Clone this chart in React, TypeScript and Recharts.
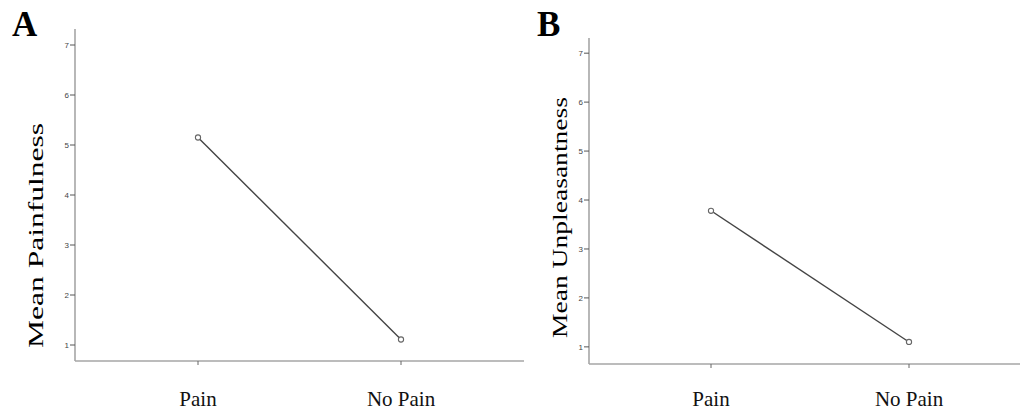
import React from 'react';
import { LineChart, Line, XAxis, YAxis, Label } from 'recharts';

const categories = ['Pain', 'No Pain'];
const painfulness = [5.15, 1.11];
const unpleasantness = [3.78, 1.1];
const yTicks = [1, 2, 3, 4, 5, 6, 7];

const dataA = categories.map((c, i) => ({ cat: c, v: painfulness[i] }));
const dataB = categories.map((c, i) => ({ cat: c, v: unpleasantness[i] }));

const SERIF = '"Liberation Serif", "DejaVu Serif", serif';

const yLabel = (text: string, x: number, y: number, len: number) => () => (
  <text
    x={x}
    y={y}
    transform={`rotate(-90 ${x} ${y})`}
    textAnchor="middle"
    fontFamily={SERIF}
    fontSize={22}
    fill="#000"
    textLength={len}
    lengthAdjust="spacingAndGlyphs"
  >
    {text}
  </text>
);

const letterStyle: React.CSSProperties = {
  position: 'absolute',
  fontFamily: SERIF,
  fontWeight: 'bold',
  fontSize: 35,
  lineHeight: '35px',
  color: '#000',
};

const AXW = 20;

function Panel(props: {
  data: { cat: string; v: number }[];
  width: number;
  margin: { top: number; right: number; bottom: number; left: number };
  padding: { left: number; right: number };
  domain: [number, number];
  xTickMargin: number;
  label: string;
  labelX: number;
  labelY: number;
  labelLen: number;
}) {
  const m = {
    top: props.margin.top,
    right: props.margin.right,
    bottom: props.margin.bottom - AXW,
    left: props.margin.left - AXW,
  };
  return (
    <LineChart width={props.width} height={412} data={props.data} margin={m}>
      <XAxis
        dataKey="cat"
        height={AXW}
        padding={props.padding}
        axisLine={{ stroke: '#a6a6a6', strokeWidth: 1.6 }}
        tickLine={{ stroke: '#666', strokeWidth: 1 }}
        tickSize={4}
        tickMargin={props.xTickMargin}
        tick={{ fontFamily: SERIF, fontSize: 21, fill: '#111' }}
        interval={0}
      />
      <YAxis
        type="number"
        width={AXW}
        domain={props.domain}
        ticks={yTicks}
        interval={0}
        allowDataOverflow
        axisLine={{ stroke: '#a6a6a6', strokeWidth: 1.6 }}
        tickLine={{ stroke: '#555', strokeWidth: 1 }}
        tickSize={5}
        tickMargin={1}
        tick={{ fontFamily: '"Liberation Sans", Arial, sans-serif', fontSize: 8, fill: '#444' }}
      >
        <Label content={yLabel(props.label, props.labelX, props.labelY, props.labelLen)} />
      </YAxis>
      <Line
        type="linear"
        dataKey="v"
        stroke="#444"
        strokeWidth={1.4}
        dot={{ r: 2.6, stroke: '#666', strokeWidth: 1.1, fill: '#fff' }}
        isAnimationActive={false}
      />
    </LineChart>
  );
}

export default function App() {
  return (
    <div
      style={{
        position: 'fixed',
        left: 0,
        top: 0,
        width: 1020,
        height: 412,
        overflow: 'hidden',
        background: '#fff',
      }}
    >
      <div style={{ position: 'absolute', left: 0, top: 0 }}>
        <Panel
          data={dataA}
          width={530}
          margin={{ top: 29, right: 6, bottom: 51, left: 75 }}
          padding={{ left: 123, right: 123 }}
          domain={[0.68, 7.32]}
          xTickMargin={26}
          label="Mean Painfulness"
          labelX={43}
          labelY={235.5}
          labelLen={225}
        />
      </div>
      <div style={{ position: 'absolute', left: 530, top: 0 }}>
        <Panel
          data={dataB}
          width={490}
          margin={{ top: 38, right: 0, bottom: 48, left: 59 }}
          padding={{ left: 122, right: 111 }}
          domain={[0.65, 7.31]}
          xTickMargin={23}
          label="Mean Unpleasantness"
          labelX={37}
          labelY={217.5}
          labelLen={241}
        />
      </div>
      <div style={{ ...letterStyle, left: 12, top: 7 }}>A</div>
      <div style={{ ...letterStyle, left: 537, top: 7 }}>B</div>
    </div>
  );
}
